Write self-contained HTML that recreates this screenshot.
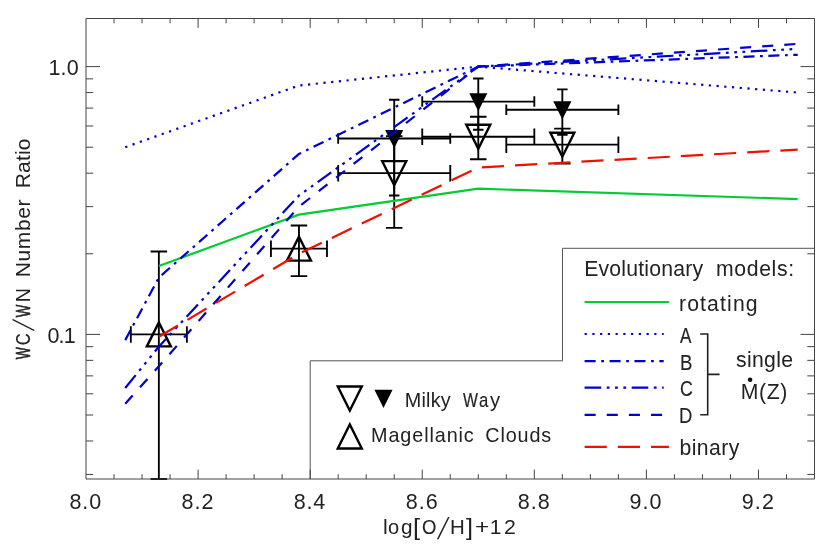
<!DOCTYPE html>
<html><head><meta charset="utf-8"><title>WC/WN Number Ratio</title>
<style>
html,body{margin:0;padding:0;background:#fff;}
#c{position:relative;width:830px;height:553px;overflow:hidden;background:#fff;font-family:"Liberation Sans",sans-serif;color:#222;}
svg{position:absolute;left:0;top:0;}
.t{position:absolute;white-space:nowrap;line-height:0;height:0;}
#tx{position:absolute;left:0;top:0;width:830px;height:553px;will-change:transform;}
</style></head><body>
<div id="c">
<svg width="830" height="553" viewBox="0 0 830 553">
<path d="M130.83 334.4H186.87 M130.83 326.15V342.65 M186.87 326.15V342.65 M158.85 251.48V479 M150.6 251.48H167.1 M150.6 479H167.1" fill="none" stroke="#000" stroke-width="1.85"/>
<polygon points="146.85,346.4 158.85,322.4 170.85,346.4" fill="none" stroke="#000" stroke-width="2.4" stroke-linejoin="miter"/>
<path d="M270.93 248.66H326.97 M270.93 240.41V256.91 M326.97 240.41V256.91 M298.95 225.53V276.16 M290.7 225.53H307.2 M290.7 276.16H307.2" fill="none" stroke="#000" stroke-width="1.85"/>
<polygon points="286.95,260.66 298.95,236.66 310.95,260.66" fill="none" stroke="#000" stroke-width="2.4" stroke-linejoin="miter"/>
<path d="M338.18 173.17H450.26 M338.18 164.92V181.42 M450.26 164.92V181.42 M394.22 136.13V227.83 M385.97 136.13H402.47 M385.97 227.83H402.47" fill="none" stroke="#000" stroke-width="1.85"/>
<polygon points="382.22,161.17 394.22,185.17 406.22,161.17" fill="none" stroke="#000" stroke-width="2.4" stroke-linejoin="miter"/>
<path d="M422.24 136.77H534.32 M422.24 128.52V145.02 M534.32 128.52V145.02 M478.28 116.7V159.21 M470.03 116.7H486.53 M470.03 159.21H486.53" fill="none" stroke="#000" stroke-width="1.85"/>
<polygon points="466.28,124.77 478.28,148.77 490.28,124.77" fill="none" stroke="#000" stroke-width="2.4" stroke-linejoin="miter"/>
<path d="M506.3 144.68H618.38 M506.3 136.43V152.93 M618.38 136.43V152.93 M562.34 128.56V163.68 M554.09 128.56H570.59 M554.09 163.68H570.59" fill="none" stroke="#000" stroke-width="1.85"/>
<polygon points="550.34,132.68 562.34,156.68 574.34,132.68" fill="none" stroke="#000" stroke-width="2.4" stroke-linejoin="miter"/>
<path d="M338.18 138.48H450.26 M338.18 133.23V143.73 M450.26 133.23V143.73 M394.22 99.75V195.54 M388.97 99.75H399.47 M388.97 195.54H399.47" fill="none" stroke="#000" stroke-width="1.85"/>
<polygon points="386.77,131.03 394.22,145.93 401.67,131.03" fill="#000" stroke="#000" stroke-width="2" stroke-linejoin="miter"/>
<path d="M422.24 101.62H534.32 M422.24 96.37V106.87 M534.32 96.37V106.87 M478.28 78.47V129.75 M473.03 78.47H483.53 M473.03 129.75H483.53" fill="none" stroke="#000" stroke-width="1.85"/>
<polygon points="470.83,94.17 478.28,109.07 485.73,94.17" fill="#000" stroke="#000" stroke-width="2" stroke-linejoin="miter"/>
<path d="M506.3 109.76H618.38 M506.3 104.51V115.01 M618.38 104.51V115.01 M562.34 89.4V134.87 M557.09 89.4H567.59 M557.09 134.87H567.59" fill="none" stroke="#000" stroke-width="1.85"/>
<polygon points="554.89,102.31 562.34,117.21 569.79,102.31" fill="#000" stroke="#000" stroke-width="2" stroke-linejoin="miter"/>
<polyline points="158.85,266.04 298.95,214.65 478.28,188.7 797.71,199.12" fill="none" stroke="#00cc33" stroke-width="2.2"/>
<polyline points="125.23,147.22 298.95,85.5 478.28,66.6 797.71,92.55" fill="none" stroke="#0000d0" stroke-width="2.2" stroke-dasharray="2.2 5.54"/>
<polyline points="125.23,340.12 158.85,277.58 298.95,153.92 478.28,66.6 797.71,54.78" fill="none" stroke="#0000d0" stroke-width="2.2" stroke-dasharray="11.07 5.54 2.77 5.54"/>
<polyline points="125.23,387.95 158.85,346.65 298.95,195.54 478.28,66.6 797.71,48.84" fill="none" stroke="#0000d0" stroke-width="2.2" stroke-dasharray="16.6 5.54 2.77 5.54 2.77 5.54 2.77 5.54"/>
<polyline points="125.23,403.72 158.85,366.32 298.95,206.63 478.28,66.6 797.71,43.85" fill="none" stroke="#0000d0" stroke-width="2.2" stroke-dasharray="11.07 11.07"/>
<polyline points="158.85,336.75 298.95,253.78 478.28,167.49 797.71,149.57" fill="none" stroke="#ee1100" stroke-width="2.2" stroke-dasharray="22.15 11.07"/>
<path d="M310.2 479 V360.8 H562.5 V248.3 H814.5 V479 Z" fill="#fff" stroke="none"/>
<path d="M310.2 479 V360.8 H562.5 V248.3 H814.5" fill="none" stroke="#545454" stroke-width="1"/>
<path d="M584.6 302H668.9" stroke="#00cc33" stroke-width="2.2"/>
<path d="M584.6 334H663.7" stroke="#0000d0" stroke-width="2.2" stroke-dasharray="2.2 5.54"/>
<path d="M584.6 361.1H663.7" stroke="#0000d0" stroke-width="2.2" stroke-dasharray="11.07 5.54 2.77 5.54"/>
<path d="M584.6 387.7H663.7" stroke="#0000d0" stroke-width="2.2" stroke-dasharray="16.6 5.54 2.77 5.54 2.77 5.54 2.77 5.54"/>
<path d="M584.6 414.8H663.7" stroke="#0000d0" stroke-width="2.2" stroke-dasharray="11.07 11.07"/>
<path d="M584.6 446.8H668.9" stroke="#ee1100" stroke-width="2.2" stroke-dasharray="22.15 11.07"/>
<path d="M700.2 334H707.7V414.8H700.2 M707.7 374.4H719.6" fill="none" stroke="#222" stroke-width="1.6"/>
<circle cx="750.1" cy="379.8" r="2.3" fill="#111"/>
<polygon points="337.8,386.5 349.8,410.5 361.8,386.5" fill="none" stroke="#000" stroke-width="2.4" stroke-linejoin="miter"/>
<polygon points="376.05,390.75 383.5,405.65 390.95,390.75" fill="#000" stroke="#000" stroke-width="2" stroke-linejoin="miter"/>
<polygon points="337.8,448.5 349.8,424.5 361.8,448.5" fill="none" stroke="#000" stroke-width="2.4" stroke-linejoin="miter"/>
<path d="M86 18.5H814.5V479H86Z M114.02 18.5v4.8 M114.02 479v-4.8 M142.04 18.5v4.8 M142.04 479v-4.8 M170.06 18.5v4.8 M170.06 479v-4.8 M198.08 18.5v9.4 M198.08 479v-9.4 M226.1 18.5v4.8 M226.1 479v-4.8 M254.12 18.5v4.8 M254.12 479v-4.8 M282.14 18.5v4.8 M282.14 479v-4.8 M310.16 18.5v9.4 M310.16 479v-9.4 M338.18 18.5v4.8 M338.18 479v-4.8 M366.2 18.5v4.8 M366.2 479v-4.8 M394.22 18.5v4.8 M394.22 479v-4.8 M422.24 18.5v9.4 M422.24 479v-9.4 M450.26 18.5v4.8 M450.26 479v-4.8 M478.28 18.5v4.8 M478.28 479v-4.8 M506.3 18.5v4.8 M506.3 479v-4.8 M534.32 18.5v9.4 M534.32 479v-9.4 M562.34 18.5v4.8 M562.34 479v-4.8 M590.36 18.5v4.8 M590.36 479v-4.8 M618.38 18.5v4.8 M618.38 479v-4.8 M646.4 18.5v9.4 M646.4 479v-9.4 M674.42 18.5v4.8 M674.42 479v-4.8 M702.44 18.5v4.8 M702.44 479v-4.8 M730.46 18.5v4.8 M730.46 479v-4.8 M758.48 18.5v9.4 M758.48 479v-9.4 M786.5 18.5v4.8 M786.5 479v-4.8 M86 474.43h7.2 M814.5 474.43h-7.2 M86 440.97h7.2 M814.5 440.97h-7.2 M86 415.02h7.2 M814.5 415.02h-7.2 M86 393.81h7.2 M814.5 393.81h-7.2 M86 375.88h7.2 M814.5 375.88h-7.2 M86 360.35h7.2 M814.5 360.35h-7.2 M86 346.65h7.2 M814.5 346.65h-7.2 M86 334.4h14 M814.5 334.4h-14 M86 253.78h7.2 M814.5 253.78h-7.2 M86 206.63h7.2 M814.5 206.63h-7.2 M86 173.17h7.2 M814.5 173.17h-7.2 M86 147.22h7.2 M814.5 147.22h-7.2 M86 126.01h7.2 M814.5 126.01h-7.2 M86 108.08h7.2 M814.5 108.08h-7.2 M86 92.55h7.2 M814.5 92.55h-7.2 M86 78.85h7.2 M814.5 78.85h-7.2 M86 66.6h14 M814.5 66.6h-14" fill="none" stroke="#444" stroke-width="1"/>
</svg>
<div id="tx">
<div class="t" style="font-size:21.5px;left:69.53px;top:502.15px;letter-spacing:0.860px;">8.0</div>
<div class="t" style="font-size:21.5px;left:181.61px;top:502.15px;letter-spacing:1.028px;">8.2</div>
<div class="t" style="font-size:21.5px;left:293.69px;top:502.15px;letter-spacing:0.860px;">8.4</div>
<div class="t" style="font-size:21.5px;left:405.77px;top:502.15px;letter-spacing:1.028px;">8.6</div>
<div class="t" style="font-size:21.5px;left:517.85px;top:502.15px;letter-spacing:1.028px;">8.8</div>
<div class="t" style="font-size:21.5px;left:629.59px;top:502.15px;letter-spacing:1.028px;">9.0</div>
<div class="t" style="font-size:21.5px;left:741.67px;top:502.15px;letter-spacing:1.196px;">9.2</div>
<div class="t" style="font-size:21.5px;left:48.56px;top:67.95px;letter-spacing:0.096px;">1.0</div>
<div class="t" style="font-size:21.5px;left:47.53px;top:335.75px;letter-spacing:-0.872px;">0.1</div>
<div class="w"><span class="t" style="font-size:21.0px;left:383.17px;top:527.22px;transform-origin:0 7.28px;transform:scale(1.016,1.000);">l</span><span class="t" style="font-size:21.0px;left:388.27px;top:527.22px;transform-origin:0 7.28px;transform:scale(0.954,1.000);">o</span><span class="t" style="font-size:21.0px;left:401.05px;top:527.22px;transform-origin:0 7.28px;transform:scale(0.985,1.000);">g</span><span class="t" style="font-size:21.0px;left:412.9px;top:527.52px;transform-origin:0 7.28px;transform:scale(1.219,1.130);">[</span><span class="t" style="font-size:21.0px;left:421.63px;top:527.22px;transform-origin:0 7.28px;transform:scale(0.880,1.000);-webkit-text-stroke:0.09px #222;">O</span><span class="t" style="font-size:21.0px;left:436.8px;top:532.42px;transform-origin:0 7.28px;transform:scale(1.000,1.440) skewX(-24deg);">/</span><span class="t" style="font-size:21.0px;left:450.3px;top:527.22px;transform-origin:0 7.28px;transform:scale(0.974,1.000);">H</span><span class="t" style="font-size:21.0px;left:466.4px;top:527.52px;transform-origin:0 7.28px;transform:scale(1.197,1.130);">]</span><span class="t" style="font-size:21.0px;left:474.76px;top:527.22px;transform-origin:0 7.28px;transform:scale(1.162,1.000);">+</span><span class="t" style="font-size:21.0px;left:489.83px;top:527.22px;">1</span><span class="t" style="font-size:21.0px;left:503.8px;top:527.22px;transform-origin:0 7.28px;transform:scale(1.016,1.000);">2</span></div>
<div class="w"><span class="t" style="font-size:21.0px;left:29.6px;top:352.42px;transform-origin:0 7.28px;transform:rotate(-90deg) scale(0.610,1.000);-webkit-text-stroke:0.62px #222;">W</span><span class="t" style="font-size:21.0px;left:29.6px;top:338.49px;transform-origin:0 7.28px;transform:rotate(-90deg) scale(0.780,1.000);-webkit-text-stroke:0.24px #222;">C</span><span class="t" style="font-size:21.0px;left:33.6px;top:324.42px;transform-origin:0 7.28px;transform:rotate(-90deg) scale(1.000,1.410) skewX(-24deg);">/</span><span class="t" style="font-size:21.0px;left:29.6px;top:309.72px;transform-origin:0 7.28px;transform:rotate(-90deg) scale(0.630,1.000);-webkit-text-stroke:0.57px #222;">W</span><span class="t" style="font-size:21.0px;left:29.6px;top:295.35px;transform-origin:0 7.28px;transform:rotate(-90deg) scale(0.931,1.000);">N</span> <span class="t" style="font-size:21.0px;left:29.6px;top:270.46px;letter-spacing:0.631px;transform-origin:0 7.28px;transform:rotate(-90deg);">Number</span> <span class="t" style="font-size:21.0px;left:29.6px;top:180.86px;letter-spacing:0.167px;transform-origin:0 7.28px;transform:rotate(-90deg);">Ratio</span></div>
<div class="w"><span class="t" style="font-size:21.2px;left:584.14px;top:268.95px;letter-spacing:0.209px;">Evolutionary</span> <span class="t" style="font-size:21.2px;left:715.97px;top:268.95px;letter-spacing:0.651px;">models:</span></div>
<div class="t" style="font-size:21.2px;left:678.97px;top:304.05px;letter-spacing:1.143px;">rotating</div>
<div class="t" style="font-size:21.2px;left:679.6px;top:335.75px;transform-origin:0 7.35px;transform:scale(0.807,1.000);-webkit-text-stroke:0.2px #222;">A</div>
<div class="t" style="font-size:21.2px;left:679.74px;top:362.55px;transform-origin:0 7.35px;transform:scale(0.880,1.000);-webkit-text-stroke:0.09px #222;">B</div>
<div class="t" style="font-size:21.2px;left:679.77px;top:389.45px;transform-origin:0 7.35px;transform:scale(0.839,1.000);-webkit-text-stroke:0.15px #222;">C</div>
<div class="t" style="font-size:21.2px;left:679.45px;top:416.35px;transform-origin:0 7.35px;transform:scale(0.875,1.000);-webkit-text-stroke:0.1px #222;">D</div>
<div class="t" style="font-size:21.2px;left:679.57px;top:448.05px;letter-spacing:0.397px;">binary</div>
<div class="t" style="font-size:21.2px;left:736.07px;top:359.85px;letter-spacing:0.300px;">single</div>
<div class="t" style="font-size:21.2px;left:740.74px;top:392.15px;letter-spacing:0.641px;">M(Z)</div>
<div class="w"><span class="t" style="font-size:19.8px;left:404.65px;top:399.94px;letter-spacing:0.264px;">Milky</span> <span class="t" style="font-size:19.8px;left:463.3px;top:399.94px;transform-origin:0 6.86px;transform:scale(0.800,1.000);-webkit-text-stroke:0.21px #222;">W</span><span class="t" style="font-size:19.8px;left:479.18px;top:399.94px;transform-origin:0 6.86px;transform:scale(0.846,1.000);-webkit-text-stroke:0.14px #222;">a</span><span class="t" style="font-size:19.8px;left:489.8px;top:399.94px;transform-origin:0 6.86px;transform:scale(1.020,1.000);">y</span></div>
<div class="w"><span class="t" style="font-size:19.8px;left:371.05px;top:434.94px;letter-spacing:0.901px;">Magellanic</span> <span class="t" style="font-size:19.8px;left:485.37px;top:434.94px;letter-spacing:0.843px;">Clouds</span></div>
</div>
</div>
</body></html>
